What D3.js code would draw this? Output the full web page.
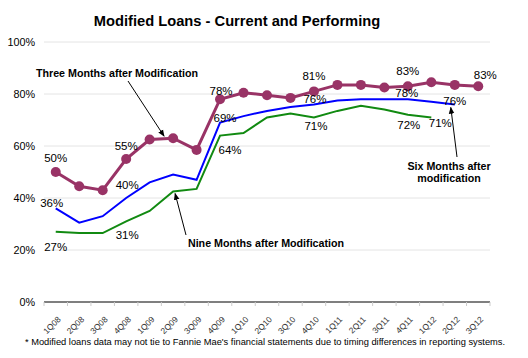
<!DOCTYPE html>
<html>
<head>
<meta charset="utf-8">
<script src="https://cdn.jsdelivr.net/npm/d3@7"></script>
<style>
  body { margin: 0; background: #fff; }
  svg { font-family: "Liberation Sans", Arial, sans-serif; }
</style>
</head>
<body>
<div id="chart"></div>
<script>
// quarters on the x axis
var quarters = ['1Q08','2Q08','3Q08','4Q08','1Q09','2Q09','3Q09','4Q09','1Q10','2Q10',
                '3Q10','4Q10','1Q11','2Q11','3Q11','4Q11','1Q12','2Q12','3Q12'];

// % current and performing, by months after modification
var threeMonths = [50,44.5,43,55,62.5,63,58.5,78,80.5,79.5,78.5,81,83.5,83.5,82.5,83,84.5,83.5,83];
var sixMonths   = [36,30.5,33,40,46,49,47,69,71.5,73.5,75,76,77.5,78,78,78,77,76,null];
var nineMonths  = [27,26.5,26.5,31,35,42.5,43.5,64,65,71,72.5,71,73.5,75.5,74,72,71,null,null];

var yTicks = [0,20,40,60,80,100];

var width = 528, height = 358;
var margin = {top: 42, right: 38, bottom: 56, left: 44};

var svg = d3.select('#chart').append('svg')
    .attr('width', width)
    .attr('height', height);

var x = d3.scaleBand()
    .domain(quarters)
    .range([margin.left, width - margin.right]);

var y = d3.scaleLinear()
    .domain([0, 100])
    .range([height - margin.bottom, margin.top]);

var cx = function(i) { return x(quarters[i]) + x.bandwidth() / 2; };

svg.append('text')
    .attr('x', 237)
    .attr('y', 26)
    .attr('text-anchor', 'middle')
    .style('font-size', '14.7px')
    .style('font-weight', 'bold')
    .text('Modified Loans - Current and Performing');

// grid
svg.append('g').selectAll('line')
    .data(yTicks.filter(d => d > 0))
    .enter().append('line')
        .attr('x1', margin.left)
        .attr('x2', width - margin.right)
        .attr('y1', d => y(d))
        .attr('y2', d => y(d))
        .attr('stroke', '#e4e4e4')
        .attr('stroke-width', 1);

// y axis labels
svg.append('g').selectAll('text')
    .data(yTicks)
    .enter().append('text')
        .attr('x', 35)
        .attr('y', d => y(d) + 4)
        .attr('text-anchor', 'end')
        .style('font-size', '10.8px')
        .text(d => d + '%');

// x baseline + ticks
svg.append('line')
    .attr('x1', margin.left)
    .attr('x2', width - margin.right)
    .attr('y1', y(0))
    .attr('y2', y(0))
    .attr('stroke', '#000')
    .attr('stroke-width', 1.2);

svg.append('g').selectAll('line')
    .data(d3.range(quarters.length + 1))
    .enter().append('line')
        .attr('x1', i => margin.left + i * x.step())
        .attr('x2', i => margin.left + i * x.step())
        .attr('y1', y(0))
        .attr('y2', y(0) + 4)
        .attr('stroke', '#ccc');

svg.append('g').selectAll('text')
    .data(quarters)
    .enter().append('text')
        .attr('transform', (d, i) => 'translate(' + (cx(i) + 5.5) + ',' + (y(0) + 18) + ') rotate(-45)')
        .attr('text-anchor', 'end')
        .attr('fill', '#333')
        .style('font-size', '8.4px')
        .text(d => d);

// lines
var line = d3.line()
    .defined(d => d != null)
    .x((d, i) => cx(i))
    .y(d => y(d));

svg.append('path')
    .datum(nineMonths)
    .attr('d', line)
    .attr('fill', 'none')
    .attr('stroke', '#118a11')
    .attr('stroke-width', 2);

svg.append('path')
    .datum(sixMonths)
    .attr('d', line)
    .attr('fill', 'none')
    .attr('stroke', '#0000ff')
    .attr('stroke-width', 2);

svg.append('path')
    .datum(threeMonths)
    .attr('d', line)
    .attr('fill', 'none')
    .attr('stroke', '#993366')
    .attr('stroke-width', 3);

svg.append('g').selectAll('circle')
    .data(threeMonths)
    .enter().append('circle')
        .attr('cx', (d, i) => cx(i))
        .attr('cy', d => y(d))
        .attr('r', 5)
        .attr('fill', '#993366');

// value labels: [series, quarter index, dx, dy]
var labels = [
    [threeMonths, 0, 0, -14], [threeMonths, 3, 0, -13], [threeMonths, 7, 1, -8],
    [threeMonths, 11, 0, -15], [threeMonths, 15, 0, -15], [threeMonths, 18, 7, -11],
    [sixMonths, 0, -4, -5], [sixMonths, 3, 1, -13], [sixMonths, 7, 5, -5],
    [sixMonths, 11, 1, -5], [sixMonths, 15, -1, -6], [sixMonths, 17, 0, -3],
    [nineMonths, 0, 0, 15], [nineMonths, 3, 1, 14], [nineMonths, 7, 10, 14],
    [nineMonths, 11, 2, 9], [nineMonths, 15, 1, 10], [nineMonths, 16, 9, 6]
];

svg.append('g').selectAll('text')
    .data(labels)
    .enter().append('text')
        .attr('x', d => cx(d[1]) + d[2])
        .attr('y', d => y(d[0][d[1]]) + d[3] + 4)
        .attr('text-anchor', 'middle')
        .style('font-size', '11.5px')
        .text(d => Math.round(d[0][d[1]]) + '%');

// annotations with arrows
svg.append('defs').append('marker')
    .attr('id', 'arrow')
    .attr('viewBox', '0 0 10 10')
    .attr('refX', 9).attr('refY', 5)
    .attr('markerWidth', 7).attr('markerHeight', 7)
    .attr('orient', 'auto')
  .append('path')
    .attr('d', 'M0,1L10,5L0,9z')
    .attr('fill', '#000');

function arrow(x1, y1, x2, y2) {
    svg.append('line')
        .attr('x1', x1).attr('y1', y1)
        .attr('x2', x2).attr('y2', y2)
        .attr('stroke', '#000')
        .attr('stroke-width', 1)
        .attr('marker-end', 'url(#arrow)');
}

function note(tx, ty, lines) {
    var t = svg.append('text')
        .attr('x', tx)
        .attr('y', ty)
        .attr('text-anchor', 'middle')
        .style('font-size', '10.7px')
        .style('font-weight', 'bold');
    lines.forEach(function(s, i) {
        t.append('tspan').attr('x', tx).attr('dy', i ? 11.5 : 0).text(s);
    });
}

note(117, 76.5, ['Three Months after Modification']);
arrow(128, 81, cx(5) - 9, y(threeMonths[5]) - 2);

note(266, 247, ['Nine Months after Modification']);
arrow(186, 235, cx(5) + 2, y(nineMonths[5]) + 2);

note(449, 170, ['Six Months after', 'modification']);
arrow(457, 157, cx(17) - 4, y(sixMonths[17]) + 3);

svg.append('text')
    .attr('x', 265)
    .attr('y', 345)
    .attr('text-anchor', 'middle')
    .style('font-size', '9.3px')
    .text("* Modified loans data may not tie to Fannie Mae's financial statements due to timing differences in reporting systems.");
</script>
</body>
</html>
